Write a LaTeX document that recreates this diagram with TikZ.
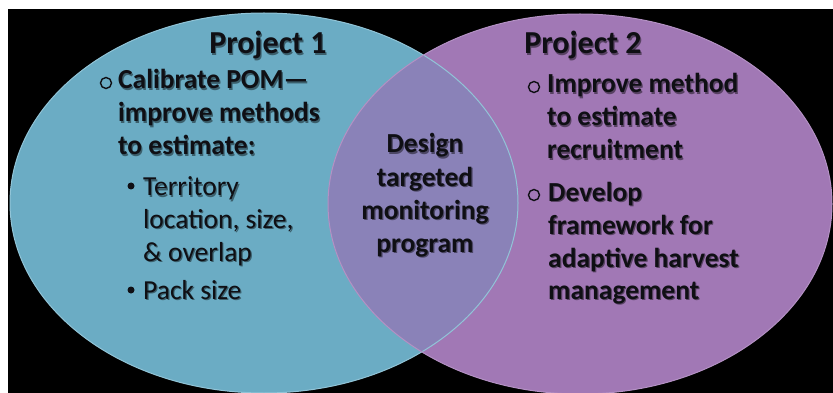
\documentclass[tikz,border=0pt]{standalone}
\usepackage{fontspec}
\setmainfont{Carlito}
\definecolor{tealc}{RGB}{107,172,196}
\definecolor{purpc}{RGB}{161,120,181}
\definecolor{lensc}{RGB}{138,130,184}
\definecolor{tealrim}{RGB}{145,196,215}
\definecolor{purprim}{RGB}{180,145,196}
\definecolor{txt}{RGB}{15,15,20}
\colorlet{lsh}{black!45!tealc}
\colorlet{rsh}{black!45!purpc}
\colorlet{msh}{black!45!lensc}
\newcommand\shd[2]{\rlap{\kern1.2pt\raisebox{-1.2pt}{\textcolor{#1}{#2}}}#2}
\begin{document}
\begin{tikzpicture}[x=1pt,y=-1pt,
  body/.style={anchor=base west, inner sep=0pt, text=txt, font=\fontsize{27.5}{33}\selectfont\bfseries},
  sub/.style={anchor=base west, inner sep=0pt, text=txt, font=\fontsize{27.5}{33}\selectfont},
  title/.style={anchor=base, inner sep=0pt, text=txt, font=\fontsize{32}{38}\selectfont\bfseries},
  mid/.style={anchor=base, inner sep=0pt, text=txt, font=\fontsize{27.5}{33}\selectfont\bfseries},
  obullet/.style={circle, draw=txt, line width=1.4pt, inner sep=0pt, minimum size=11pt},
  dbullet/.style={circle, fill=txt, inner sep=0pt, minimum size=7pt},
  rim/.style={line width=1pt}]
\useasboundingbox (0,0) rectangle (833,393);
\fill[white] (0,0) rectangle (833,393);
\fill[black] (8,9) rectangle (833,393);
% ellipses
\fill[tealc] (264,203) ellipse [x radius=254, y radius=190];
\fill[purpc] (580,204) ellipse [x radius=252, y radius=190];
\begin{scope}
  \clip (264,203) ellipse [x radius=254, y radius=190];
  \fill[lensc] (580,204) ellipse [x radius=252, y radius=190];
\end{scope}
\draw[rim, tealrim] (264,203) ellipse [x radius=254, y radius=190];
\draw[rim, purprim] (580,204) ellipse [x radius=252, y radius=190];
% titles
\node[title] (t1) at (268,54) {\shd{lsh}{Project 1}};
\node[title] (t2) at (583,54) {\shd{rsh}{Project 2}};
% left block
\node[obullet] (lb1) at (106,83) {};
\node[body] (l1) at (118,89) {\shd{lsh}{Calibrate POM—}};
\node[body] (l2) at (118,122) {\shd{lsh}{improve methods}};
\node[body] (l3) at (118,155) {\shd{lsh}{to estimate:}};
\node[dbullet] (sb1) at (131,186) {};
\node[sub] (s1) at (143,196) {\shd{lsh}{Territory}};
\node[sub] (s2) at (143,228) {\shd{lsh}{location, size,}};
\node[sub] (s3) at (143,261) {\shd{lsh}{\& overlap}};
\node[dbullet] (sb2) at (131,290) {};
\node[sub] (s4) at (143,299) {\shd{lsh}{Pack size}};
% middle
\node[mid] (m1) at (425,153) {\shd{msh}{Design}};
\node[mid] (m2) at (425,186) {\shd{msh}{targeted}};
\node[mid] (m3) at (425,219) {\shd{msh}{monitoring}};
\node[mid] (m4) at (425,252) {\shd{msh}{program}};
% right block
\node[obullet] (rb1) at (534,87) {};
\node[body] (r1) at (547,93) {\shd{rsh}{Improve method}};
\node[body] (r2) at (547,126) {\shd{rsh}{to estimate}};
\node[body] (r3) at (547,159) {\shd{rsh}{recruitment}};
\node[obullet] (rb2) at (534,195) {};
\node[body] (r4) at (548,201) {\shd{rsh}{Develop}};
\node[body] (r5) at (548,234) {\shd{rsh}{framework for}};
\node[body] (r6) at (548,267) {\shd{rsh}{adaptive harvest}};
\node[body] (r7) at (548,299) {\shd{rsh}{management}};
\end{tikzpicture}
\end{document}
